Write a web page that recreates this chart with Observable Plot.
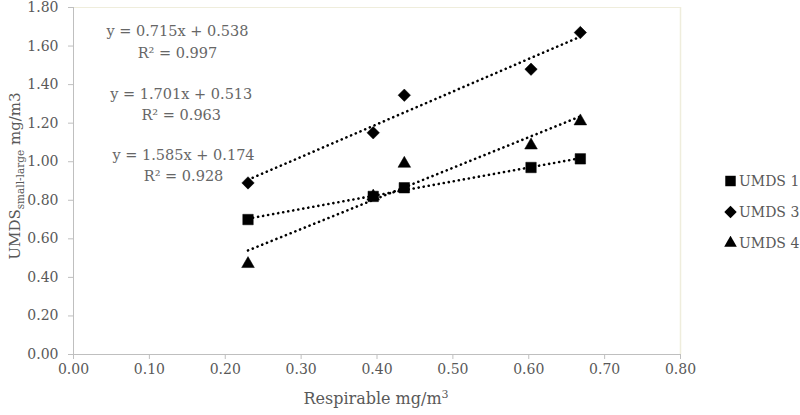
<!DOCTYPE html>
<html>
<head>
<meta charset="utf-8">
<script src="https://cdn.jsdelivr.net/npm/d3@7"></script>
<script src="https://cdn.jsdelivr.net/npm/@observablehq/plot@0.6"></script>
<style>
  html, body { margin: 0; padding: 0; background: #fff; }
  #wrap { position: relative; width: 800px; height: 415px; font-family: "DejaVu Serif", serif; }
  #legend { position: absolute; left: 724px; top: 165px; width: 76px; color: #595959; font-size: 14px; white-space: nowrap; }
  #legend .row { display: flex; align-items: center; height: 31px; white-space: nowrap; }
  #legend svg { margin-right: 2px; flex: none; }
</style>
</head>
<body>
<div id="wrap"><div id="legend"></div></div>
<script>
// Data
const respirable = [0.23, 0.395, 0.436, 0.603, 0.668];
const umds1 = [0.70, 0.82, 0.865, 0.97, 1.015];
const umds3 = [0.89, 1.15, 1.345, 1.48, 1.67];
const umds4 = [0.47, 0.82, 0.99, 1.085, 1.21];
const seriesNames = ["UMDS 1", "UMDS 3", "UMDS 4"];
const seriesSymbols = ["square", "diamond2", "triangle"];
const xTicks = [0, 0.1, 0.2, 0.3, 0.4, 0.5, 0.6, 0.7, 0.8];
const yTicks = [0, 0.2, 0.4, 0.6, 0.8, 1.0, 1.2, 1.4, 1.6, 1.8];
const equations = ["y = 0.715x + 0.538", "y = 1.701x + 0.513", "y = 1.585x + 0.174"];
const r2s = ["R² = 0.997", "R² = 0.963", "R² = 0.928"];
const eqAnchorX = [0.137, 0.142, 0.145];
const eqAnchorY = [1.63, 1.306, 0.991];

const valuesBySeries = [umds1, umds3, umds4];
const symbolRadius = [5.9, 5.6, 4.7];
const rows = [];
// draw order: UMDS 4, UMDS 3, UMDS 1 (squares on top)
[2, 1, 0].forEach(s => {
  respirable.forEach((x, i) => rows.push({series: seriesNames[s], x, y: valuesBySeries[s][i]}));
});
const labels = equations.map((e, i) => ({x: eqAnchorX[i], y: eqAnchorY[i], text: e + "\n" + r2s[i]}));

const gray = "#595959";
const axisGray = "#bfbfbf";

const dotMarks = [2, 1, 0].map(s =>
  Plot.dot(rows.filter(d => d.series === seriesNames[s]), {
    x: "x", y: "y", symbol: "series", fill: "#000", stroke: "#000", strokeWidth: 0.5, r: symbolRadius[s]
  })
);

const chart = Plot.plot({
  width: 800,
  height: 415,
  marginLeft: 73,
  marginRight: 120,
  marginTop: 7,
  marginBottom: 61,
  style: {fontFamily: "DejaVu Serif, serif", fontSize: "14px", color: gray, background: "#fff", overflow: "visible"},
  x: {domain: [0, 0.8]},
  y: {domain: [0, 1.8]},
  symbol: {domain: seriesNames, range: seriesSymbols},
  marks: [
    Plot.ruleY([1.8], {stroke: "#efeddc", strokeWidth: 1}),
    Plot.ruleX([0.8], {stroke: "#efeddc", strokeWidth: 1.5}),
    Plot.ruleY([0], {stroke: axisGray}),
    Plot.ruleX([0], {stroke: axisGray}),
    Plot.axisX({ticks: xTicks, tickFormat: d3.format(".2f"), tickSize: 5, tickPadding: 5, stroke: axisGray, fill: gray, label: null, fontSize: 14}),
    Plot.axisY({ticks: yTicks, tickFormat: d3.format(".2f"), tickSize: 5, tickPadding: 10, stroke: axisGray, fill: gray, label: null, fontSize: 14}),
    Plot.linearRegressionY(rows, {x: "x", y: "y", z: "series", ci: 0, stroke: "#000", strokeWidth: 2.6, strokeDasharray: "0.1,5", strokeLinecap: "round"}),
    ...dotMarks,
    Plot.text(labels, {x: "x", y: "y", text: "text", fill: "#666", fontSize: 14.5, lineHeight: 1.45, textAnchor: "middle"})
  ]
});

const svg = d3.select(chart);
// Y axis title with subscript
const yt = svg.append("text")
  .attr("transform", "translate(20,176) rotate(-90)")
  .attr("text-anchor", "middle")
  .attr("fill", gray)
  .attr("font-size", 15)
  .attr("font-family", "DejaVu Serif, serif");
yt.append("tspan").text("UMDS");
yt.append("tspan").attr("font-size", 10.5).attr("dy", 4).text("small-large");
yt.append("tspan").attr("dy", -4).text(" mg/m3");
// X axis title with superscript
const xt = svg.append("text")
  .attr("x", 376).attr("y", 404)
  .attr("text-anchor", "middle")
  .attr("fill", gray)
  .attr("font-size", 16)
  .attr("font-family", "DejaVu Serif, serif");
xt.append("tspan").text("Respirable mg/m");
xt.append("tspan").attr("font-size", 11).attr("dy", -6).text("3");

document.getElementById("wrap").prepend(chart);
chart.style.position = "absolute";
chart.style.left = "0";
chart.style.top = "0";

// Legend
const legend = document.getElementById("legend");
const legendSymbols = [d3.symbolSquare, d3.symbolDiamond2, d3.symbolTriangle];
seriesNames.forEach((name, i) => {
  const row = document.createElement("div");
  row.className = "row";
  const r = symbolRadius[i];
  const sym = d3.symbol(legendSymbols[i], Math.PI * r * r)();
  row.innerHTML = `<svg width="13" height="14" viewBox="-6.5 -7 13 14"><path d="${sym}" fill="#000"/></svg><span>${name}</span>`;
  legend.appendChild(row);
});
</script>
</body>
</html>
